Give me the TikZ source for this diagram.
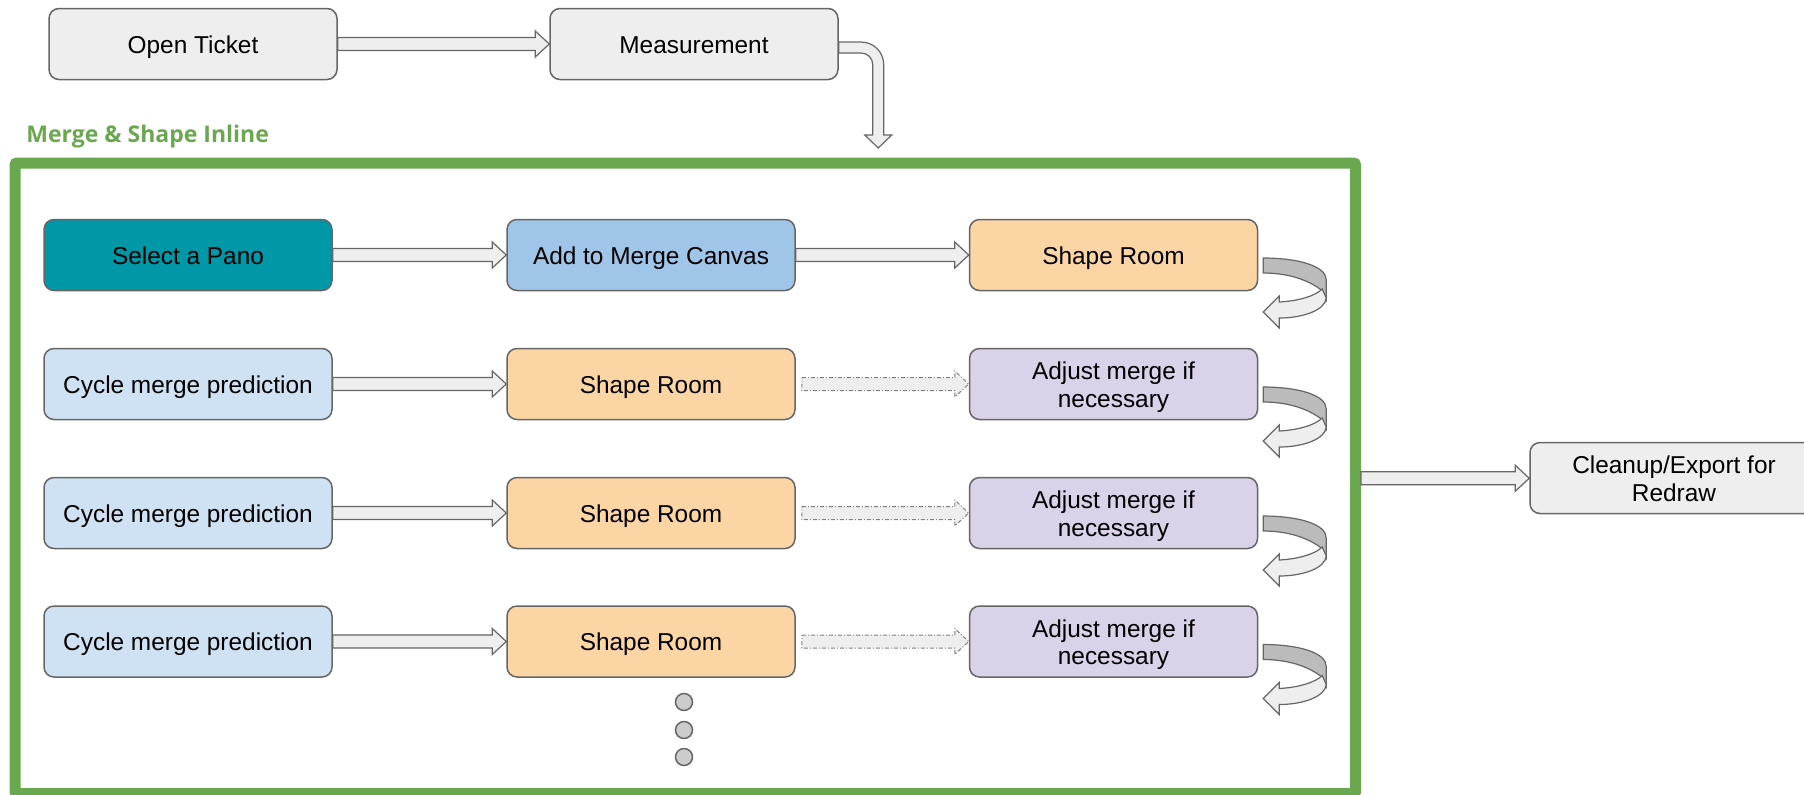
\documentclass[tikz,border=0pt]{standalone}
\usepackage{fontspec}
\setmainfont{Liberation Sans}
\newfontfamily\titlefont{Open Sans}
\usepackage{tikz}
\usetikzlibrary{calc}

\definecolor{boxgray}{HTML}{EEEEEE}
\definecolor{backgray}{HTML}{BBBBBB}
\definecolor{linegray}{HTML}{666666}
\definecolor{panoteal}{HTML}{0097A7}
\definecolor{canvasblue}{HTML}{9FC5E8}
\definecolor{cycleblue}{HTML}{CFE2F3}
\definecolor{shapeorange}{HTML}{FCD5A4}
\definecolor{adjustpurple}{HTML}{D9D2E9}
\definecolor{framegreen}{HTML}{6AA84F}

% two centred lines, baseline on the last one
\newcommand{\twolines}[2]{\vbox{\halign{\hfil##\hfil\cr #1\cr #2\cr}}}

% block arrow from #2 to #3 (same height)
\newcommand{\blockarrow}[3][]{%
  \draw[blockarrow,#1] let \p1=#2, \p2=#3 in
    (\x1,\y1+3.25pt) -- (\x2-7pt,\y1+3.25pt) -- (\x2-7pt,\y1+6.5pt) -- (\x2,\y1)
    -- (\x2-7pt,\y1-6.5pt) -- (\x2-7pt,\y1-3.25pt) -- (\x1,\y1-3.25pt) -- cycle;}

% curled arrow at the right of a row
\newcommand{\turnarrow}[1]{%
  \begin{scope}[shift={#1}]
    \draw[blockarrow,fill=backgray] (0,0) .. controls (35,0) and (63,8) .. (63,22)
      -- (63,42) -- (58,32) .. controls (45,22) and (25,15) .. (0,15) -- cycle;
    \draw[blockarrow] (59,31) -- (63,40) .. controls (62,52) and (40,60) .. (16,60)
      -- (16,70) -- (0,54) -- (16,38) -- (16,44) .. controls (35,43) and (52,38) .. (59,31) -- cycle;
  \end{scope}}

\begin{document}
\begin{tikzpicture}[x=0.5pt,y=-0.5pt,
  stepbox/.style={draw=linegray,line width=0.75pt,rounded corners=5pt,
    minimum width=144pt,minimum height=35.5pt,inner sep=0pt,
    font=\fontsize{12.2}{13.65}\selectfont,text height=15.4pt,text depth=6pt},
  twoline/.style={text height=29.1pt,text depth=6pt},
  blockarrow/.style={fill=boxgray,draw=linegray,line width=0.6pt},
  dasharrow/.style={draw=gray,line width=0.5pt,dash pattern=on 2pt off 1pt on 0.5pt off 1pt},
  framebox/.style={draw=framegreen,line width=5.5pt,rounded corners=1pt,
    minimum width=670.25pt,minimum height=315.25pt,inner sep=0pt},
  titletext/.style={text=framegreen,inner sep=0pt,
    font=\titlefont\bfseries\fontsize{11.5}{14}\selectfont},
  dotnode/.style={circle,fill=black!20,draw=linegray,line width=0.75pt,
    minimum size=8.5pt,inner sep=0pt}]

\useasboundingbox (0,0) rectangle (1804,794);
\clip (0,0) rectangle (1804,794);

    % top row
    \node[stepbox,fill=boxgray] (ticket) at (193,44) {Open Ticket};
    \node[stepbox,fill=boxgray] (meas) at (694,44) {Measurement};
    \blockarrow{(ticket.east)}{(meas.west)}

    \begin{scope}[shift={(meas.east)}]
    \draw[blockarrow] (0,-2) -- (22,-2) .. controls (35,-2) and (45,8) .. (45,21)
      -- (45,91) -- (53,91) -- (39.5,104) -- (26,91) -- (34,91) -- (34,21)
      .. controls (34,14) and (29,9) .. (22,9) -- (0,9) -- cycle;
    \end{scope}

    % merge and shape frame
    \node[titletext,anchor=base west] (title) at (26,142) {Merge \& Shape Inline};
    \node[framebox] (frame) at (685.25,478.25) {};

    \node[stepbox,fill=panoteal] (pano) at (188,255) {Select a Pano};
    \node[stepbox,fill=canvasblue] (canvas) at (651,255) {Add to Merge Canvas};
    \node[stepbox,fill=shapeorange] (shape1) at (1113.5,255) {Shape Room};
    \blockarrow{(pano.east)}{(canvas.west)}
    \blockarrow{(canvas.east)}{(shape1.west)}
    \turnarrow{($(shape1.east)+(5,3)$)}

    \node[stepbox,fill=cycleblue] (cycle2) at (188,384) {Cycle merge prediction};
    \node[stepbox,fill=shapeorange] (shape2) at (651,384) {Shape Room};
    \node[stepbox,twoline,fill=adjustpurple] (adjust2) at (1113.5,384) {\twolines{Adjust merge if}{necessary}};
    \blockarrow{(cycle2.east)}{(shape2.west)}
    \blockarrow[dasharrow]{($(shape2.east)+(6,0)$)}{(adjust2.west)}
    \turnarrow{($(adjust2.east)+(5,3)$)}

    \node[stepbox,fill=cycleblue] (cycle3) at (188,513) {Cycle merge prediction};
    \node[stepbox,fill=shapeorange] (shape3) at (651,513) {Shape Room};
    \node[stepbox,twoline,fill=adjustpurple] (adjust3) at (1113.5,513) {\twolines{Adjust merge if}{necessary}};
    \blockarrow{(cycle3.east)}{(shape3.west)}
    \blockarrow[dasharrow]{($(shape3.east)+(6,0)$)}{(adjust3.west)}
    \turnarrow{($(adjust3.east)+(5,3)$)}

    \node[stepbox,fill=cycleblue] (cycle4) at (188,641.5) {Cycle merge prediction};
    \node[stepbox,fill=shapeorange] (shape4) at (651,641.5) {Shape Room};
    \node[stepbox,twoline,fill=adjustpurple] (adjust4) at (1113.5,641.5) {\twolines{Adjust merge if}{necessary}};
    \blockarrow{(cycle4.east)}{(shape4.west)}
    \blockarrow[dasharrow]{($(shape4.east)+(6,0)$)}{(adjust4.west)}
    \turnarrow{($(adjust4.east)+(5,3)$)}

    \node[dotnode] (dot1) at (684,702) {};
    \node[dotnode] (dot2) at (684,730) {};
    \node[dotnode] (dot3) at (684,757) {};

    % export
    \node[stepbox,twoline,fill=boxgray] (cleanup) at (1674,478) {\twolines{Cleanup/Export for}{Redraw}};
    \blockarrow{(frame.east)}{(cleanup.west)}

\end{tikzpicture}
\end{document}
